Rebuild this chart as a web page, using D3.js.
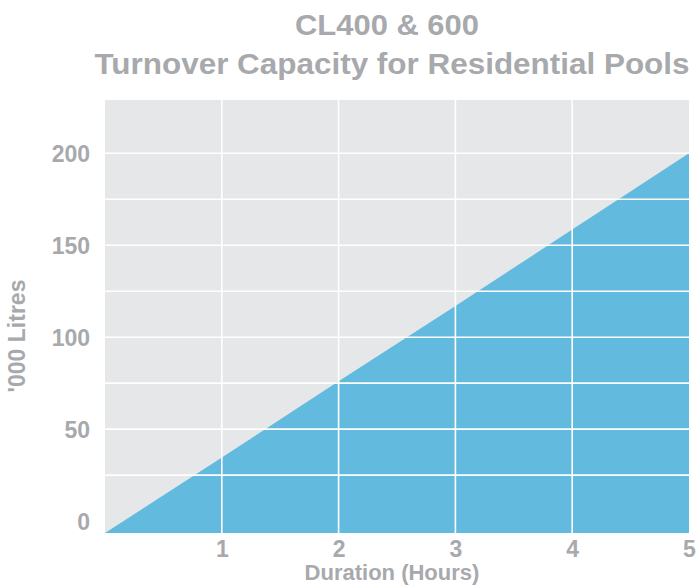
<!DOCTYPE html>
<html>
<head>
<meta charset="utf-8">
<script src="https://cdn.jsdelivr.net/npm/d3@7"></script>
<style>
  body { margin: 0; background: #fff; }
  text { font-family: "Liberation Sans", Arial, Helvetica, sans-serif; font-weight: bold; fill: #a7a9ac; }
</style>
</head>
<body>
<svg id="chart"></svg>
<script>
const hours = [0, 1, 2, 3, 4, 5];
const litres = [-6.5, 34.5, 76, 117, 158.5, 200];
const xTicks = [1, 2, 3, 4, 5];
const yTicks = [0, 50, 100, 150, 200];
const yGrid = [25, 50, 75, 100, 125, 150, 175, 200];
const titleLines = ['CL400 & 600', 'Turnover Capacity for Residential Pools'];

const svg = d3.select('#chart')
  .attr('width', 696)
  .attr('height', 588);

const margin = { top: 100, right: 7, bottom: 55, left: 105 };
const width = 696 - margin.left - margin.right;
const height = 588 - margin.top - margin.bottom;

const x = d3.scaleLinear()
  .domain([0, 5])
  .range([margin.left, margin.left + width]);

const y = d3.scaleLinear()
  .domain([-6.5, 229])
  .range([margin.top + height, margin.top]);

const data = hours.map((h, i) => ({ h, v: litres[i] }));

// plot background
svg.append('rect')
  .attr('x', x(0))
  .attr('y', y(229))
  .attr('width', x(5) - x(0))
  .attr('height', y(-6.5) - y(229))
  .attr('fill', '#e6e7e8');

// filled area
const area = d3.area()
  .x(d => x(d.h))
  .y0(y(-6.5))
  .y1(d => y(d.v));

svg.append('path')
  .datum(data)
  .attr('fill', '#62bbdf')
  .attr('d', area);

// grid
svg.append('g')
  .selectAll('line')
  .data(yGrid)
  .join('line')
  .attr('x1', x(0))
  .attr('x2', x(5))
  .attr('y1', d => y(d))
  .attr('y2', d => y(d))
  .attr('stroke', '#fff')
  .attr('stroke-width', 1.6);

svg.append('g')
  .selectAll('line')
  .data(xTicks.filter(d => d < 5))
  .join('line')
  .attr('x1', d => x(d))
  .attr('x2', d => x(d))
  .attr('y1', y(229))
  .attr('y2', y(-6.5))
  .attr('stroke', '#fff')
  .attr('stroke-width', 1.6);

// y axis labels
const yAxis = svg.append('g')
  .attr('transform', `translate(${margin.left - 15},0)`)
  .call(d3.axisLeft(y).tickValues(yTicks).tickFormat(d3.format('d')).tickSize(0).tickPadding(0));
yAxis.select('.domain').remove();
yAxis.selectAll('text')
  .attr('font-size', 23)
  .attr('font-family', null)
  .attr('dy', '0.36em');

// x axis labels
const xAxis = svg.append('g')
  .attr('transform', `translate(0,${y(-6.5)})`)
  .call(d3.axisBottom(x).tickValues(xTicks).tickFormat(d3.format('d')).tickSize(0).tickPadding(0));
xAxis.select('.domain').remove();
xAxis.selectAll('text')
  .attr('font-size', 23)
  .attr('font-family', null)
  .attr('dy', null)
  .attr('y', 24);

// titles
svg.append('text')
  .attr('x', 387)
  .attr('y', 35)
  .attr('text-anchor', 'middle')
  .attr('font-size', 29)
  .attr('textLength', 184)
  .attr('lengthAdjust', 'spacingAndGlyphs')
  .text(titleLines[0]);

svg.append('text')
  .attr('x', 392)
  .attr('y', 74)
  .attr('text-anchor', 'middle')
  .attr('font-size', 29)
  .attr('textLength', 595)
  .attr('lengthAdjust', 'spacingAndGlyphs')
  .text(titleLines[1]);

svg.append('text')
  .attr('x', 392)
  .attr('y', 580)
  .attr('text-anchor', 'middle')
  .attr('font-size', 22)
  .text('Duration (Hours)');

svg.append('text')
  .attr('transform', 'translate(25,336) rotate(-90)')
  .attr('text-anchor', 'middle')
  .attr('font-size', 23)
  .text("'000 Litres");
</script>
</body>
</html>
